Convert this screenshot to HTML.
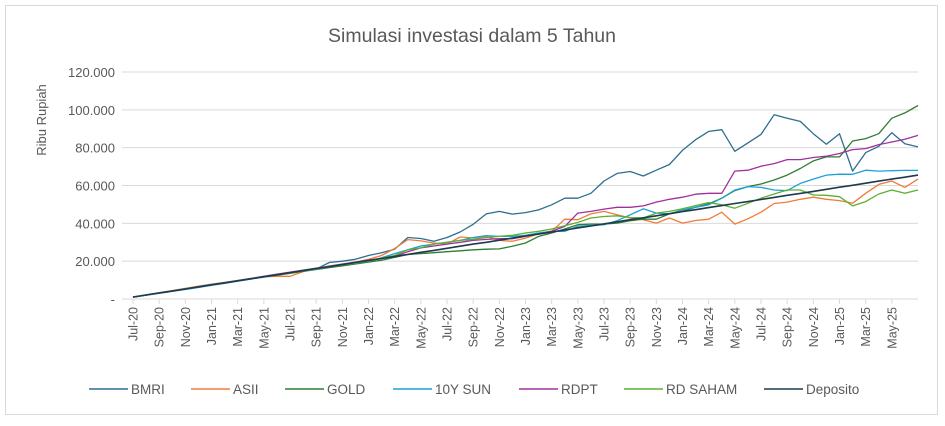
<!DOCTYPE html>
<html><head><meta charset="utf-8"><style>
html,body{margin:0;padding:0;background:#fff;}
body{width:945px;height:421px;overflow:hidden;font-family:"Liberation Sans",sans-serif;}
</style></head><body>
<svg id="chart" width="945" height="421" xmlns="http://www.w3.org/2000/svg" font-family="Liberation Sans, sans-serif">
<rect x="5.5" y="5.5" width="932" height="409" fill="#fff" stroke="#d9d9d9"/>
<text x="472" y="42" text-anchor="middle" font-size="19.5" fill="#595959">Simulasi investasi dalam 5 Tahun</text>
<text transform="translate(46,120) rotate(-90)" text-anchor="middle" font-size="13" fill="#595959">Ribu Rupiah</text>
<g id="grid"></g><g id="axes"></g><g id="series"></g><g id="legend"></g>
</svg>
<script>
const months = ["Jul-20","Aug-20","Sep-20","Oct-20","Nov-20","Dec-20","Jan-21","Feb-21","Mar-21","Apr-21","May-21","Jun-21","Jul-21","Aug-21","Sep-21","Oct-21","Nov-21","Dec-21","Jan-22","Feb-22","Mar-22","Apr-22","May-22","Jun-22","Jul-22","Aug-22","Sep-22","Oct-22","Nov-22","Dec-22","Jan-23","Feb-23","Mar-23","Apr-23","May-23","Jun-23","Jul-23","Aug-23","Sep-23","Oct-23","Nov-23","Dec-23","Jan-24","Feb-24","Mar-24","Apr-24","May-24","Jun-24","Jul-24","Aug-24","Sep-24","Oct-24","Nov-24","Dec-24","Jan-25","Feb-25","Mar-25","Apr-25","May-25","Jun-25","Jul-25"];
const yTicks = [0,20000,40000,60000,80000,100000,120000];
const yTickLabels = ["-","20.000","40.000","60.000","80.000","100.000","120.000"];
const seriesNames = ["BMRI","ASII","GOLD","10Y SUN","RDPT","RD SAHAM","Deposito"];
const seriesColors = ["#2e6e8e","#f07c3a","#2f7d32","#1ea0d8","#a0309f","#5ab030","#1e3a4c"];
const bmri = [1,2.1,3.2,4.3,5.3,6.4,7.5,8.5,9.6,10.7,11.8,12.8,13.9,15.0,15.8,19.3,20,21,23,24.5,26.3,32.5,32,30.5,32.5,35.4,39.5,45,46.3,44.9,45.7,47.1,49.8,53.3,53.3,55.9,62.4,66.4,67.4,65.0,68.1,71.1,78.6,84.2,88.6,89.5,78.1,82.5,87.0,97.4,95.6,93.9,87.4,81.8,87.4,67.6,77.4,80.7,87.9,82.1,80.4];
const asii = [1,2.2,3.3,4.5,5.6,6.8,7.8,8.8,9.8,10.8,11.8,12.0,12.0,14.5,16,17.5,18.5,19.5,21,23,26.7,31.4,30.7,29.6,29,32.8,32.3,33,31.0,30.5,32.2,34.5,35.8,42.2,41.9,45.0,46.3,44.5,42.8,41.9,40.1,42.8,40.1,41.5,42.2,45.9,39.6,42.4,45.9,50.5,51.2,52.7,53.8,52.7,52.0,50.6,55.9,60.6,62.4,59.0,63.4];
const gold = [1,2.1,3.2,4.2,5.3,6.4,7.5,8.5,9.6,10.7,11.6,12.6,13.6,14.6,15.6,16.6,17.5,18.5,19.5,20.5,22,23.5,24,24.5,25,25.5,26,26.3,26.5,27.9,29.6,33.1,34.9,37.0,39.3,39.6,39.6,40.1,41.4,42.2,42.2,45.0,46.3,48.5,50.3,53.3,57.3,59.4,60.8,62.9,65.5,69.0,73.0,75.1,75.1,83.5,84.8,87.4,95.6,98.4,102.3];
const sun10y = [1,2.0,3.0,4.0,5.0,6.1,7.2,8.3,9.4,10.5,11.6,12.7,13.8,14.9,15.9,16.9,18.0,19.0,20.0,21.8,24,26,28,29,30,31,32.5,33.5,33.1,33.1,33.7,34.9,35.8,35.8,38.4,38.9,39.3,41.4,44.5,47.7,45.4,45.0,47.1,48.5,49.8,53.3,57.6,59.4,59.0,57.6,57.3,61.1,63.4,65.5,66.0,65.9,68.1,67.6,67.8,68.0,68.0];
const rdpt = [1,2.1,3.2,4.3,5.4,6.5,7.6,8.7,9.8,10.9,12.0,13.1,14.2,15.3,16.3,17.3,18.4,19.5,20.5,21.5,22.5,25,27,28,29,30,31,31.5,31.9,31.9,33.1,34.5,35.8,38.4,45.4,46.3,47.5,48.5,48.5,49.2,51.2,52.7,53.8,55.4,55.9,55.9,67.6,68.1,70.2,71.6,73.7,73.7,74.8,75.5,76.9,79.0,79.5,81.6,83.0,84.4,86.5];
const rdSaham = [1,2.1,3.2,4.3,5.4,6.5,7.5,8.6,9.7,10.7,11.7,12.8,13.8,14.9,16.0,17.0,18.0,19.0,20.2,21.5,23,26,27,29,30,31,31.5,32.5,33.1,33.7,34.9,35.8,37.0,38.7,40.5,42.8,43.6,44.0,43.1,42.8,45.4,46.3,47.7,49.4,51.0,49.8,48.0,50.6,53.3,55.5,57.6,57.6,55.0,54.8,54.1,49.2,51.5,55.5,57.6,55.9,57.6];
const deposito = [1.0,2.1,3.2,4.2,5.3,6.4,7.5,8.5,9.6,10.7,11.8,12.8,13.9,15.0,16.1,17.1,18.2,19.3,20.4,21.4,22.5,23.6,24.7,25.7,26.8,27.9,29.0,30.0,31.1,32.2,33.3,34.3,35.4,36.5,37.6,38.6,39.7,40.8,41.9,42.9,44.0,45.1,46.2,47.2,48.3,49.4,50.5,51.5,52.6,53.7,54.8,55.8,56.9,58.0,59.1,60.1,61.2,62.3,63.4,64.4,65.5];
const allSeries = [bmri,asii,gold,sun10y,rdpt,rdSaham,deposito];

const NS="http://www.w3.org/2000/svg";
const X0=133,X1=918,Y0=299,Y1=72;
function xPos(i){return X0+(X1-X0)*i/(months.length-1);}
function yPos(v){return Y0-(Y0-Y1)*v/120000;}
function mk(tag,attrs,parent){const e=document.createElementNS(NS,tag);for(const k in attrs)e.setAttribute(k,attrs[k]);parent.appendChild(e);return e;}
const grid=document.getElementById('grid'),axes=document.getElementById('axes'),ser=document.getElementById('series'),leg=document.getElementById('legend');
yTicks.forEach((t,k)=>{
  if(t>0){const l=mk('line',{x1:X0-11,x2:X1,y1:yPos(t),y2:yPos(t),stroke:'#d9d9d9','stroke-width':1},grid);
  
  }
  const tx=mk('text',{x:115,y:yPos(t)+5,'text-anchor':'end','font-size':13,fill:'#595959'},axes);
  tx.textContent=yTickLabels[k];
  
  
});
const ax=mk('line',{x1:X0-11,x2:X1,y1:Y0,y2:Y0,stroke:'#d9d9d9','stroke-width':1},axes);


months.forEach((m,i)=>{
  if(i%2!==0 || i>=months.length-1)return;
  const x=xPos(i);
  const tk=mk('line',{x1:x,x2:x,y1:Y0,y2:Y0+5,stroke:'#d9d9d9'},axes);
  
  
  const tx=mk('text',{transform:`translate(${x+4.5},${Y0+8}) rotate(-90)`,'text-anchor':'end','font-size':12.5,fill:'#595959'},axes);
  tx.textContent=m;
  
  
});
allSeries.forEach((d,s)=>{
  const pts=d.map((v,i)=>xPos(i).toFixed(1)+','+yPos(v*1000).toFixed(1)).join(' ');
  const pl=mk('polyline',{points:pts,fill:'none',stroke:seriesColors[s],'stroke-width':s===6?1.6:1.3,'stroke-linejoin':'round'},ser);
  
  
});
const legX=[89,191,285,393,519,624,764];
seriesNames.forEach((n,s)=>{
  const g=mk('g',{},leg);
  
  
  mk('line',{x1:legX[s],x2:legX[s]+39,y1:389,y2:389,stroke:seriesColors[s],'stroke-width':1.5},g);
  const t=mk('text',{x:legX[s]+42,y:394,'font-size':13.5,fill:'#595959'},g);
  t.textContent=n;
});
</script>
</body></html>
